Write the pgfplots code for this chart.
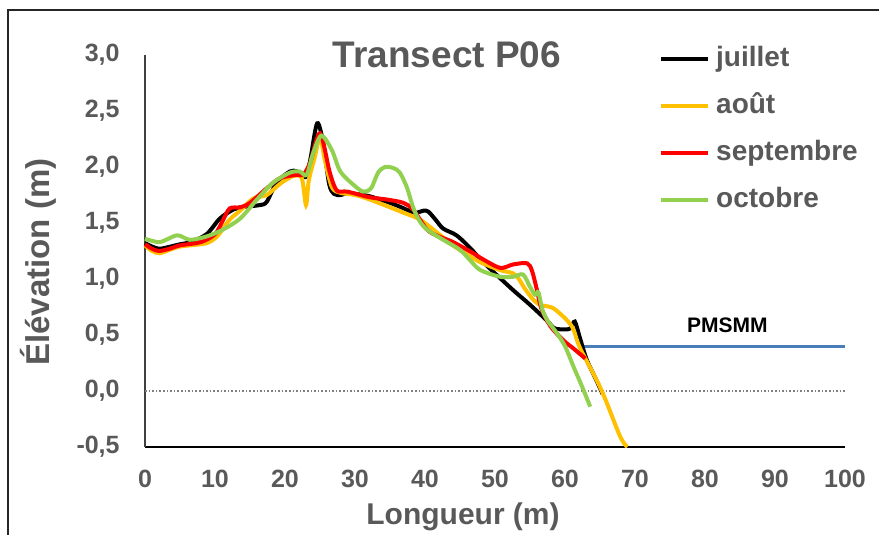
\documentclass[border=0pt]{standalone}
\usepackage{fontspec}
\setmainfont{Liberation Sans}
\usepackage{pgfplots}
\pgfplotsset{compat=1.18}
\definecolor{txt}{HTML}{595959}
\definecolor{cjuil}{HTML}{000000}
\definecolor{caout}{HTML}{FFC000}
\definecolor{csept}{HTML}{FF0000}
\definecolor{coct}{HTML}{92D050}
\definecolor{cpm}{HTML}{4A7EBB}
\begin{document}
\begin{tikzpicture}
\path[use as bounding box] (0pt,0pt) rectangle (439.5pt,267.5pt);
\draw[line width=1pt, black!85] (4pt,0pt) -- (4pt,262.5pt) -- (439.5pt,262.5pt);
\begin{axis}[
  at={(72.5pt,44pt)}, anchor=south west,
  scale only axis, width=350pt, height=196pt,
  xmin=0, xmax=100, ymin=-0.5, ymax=3,
  axis x line*=bottom, axis y line*=left,
  x axis line style={-, line width=0.8pt, black},
  y axis line style={-, line width=0.6pt, black!75},
  xtick={0,10,...,100},
  ytick={-0.5,0,0.5,1,1.5,2,2.5,3},
  major tick length=0pt,
  ticklabel style={font=\fontsize{12.5}{14}\selectfont\bfseries, text=txt, inner sep=0pt},
  xticklabel style={yshift=-11.5pt},
  yticklabel style={xshift=-12.5pt},
  /pgf/number format/assume math mode=true,
  yticklabel={\pgfmathprintnumber[fixed, fixed zerofill, precision=1, use comma]{\tick}},
  xticklabel={\pgfmathprintnumber[fixed, precision=0]{\tick}},
  clip=false,
  legend style={at={(0.734,1.023)}, anchor=north west, draw=none, fill=none,
    inner sep=0pt, row sep=10.5pt, column sep=3pt,
    font=\fontsize{14}{16}\selectfont\bfseries, text=txt,
    nodes={inner sep=0pt, text height=10pt, text depth=3pt}},
  legend cell align=left,
  legend image code/.code={\draw[#1, line width=2pt] (0pt,0pt) -- (23.5pt,0pt);},
]
\addplot[forget plot, densely dotted, line width=0.8pt, black!50] coordinates {(0,0) (100,0)};
\addplot[forget plot, cpm, line width=1.6pt] coordinates {(62.5,0.4) (100,0.4)};
\node[font=\fontsize{10.5}{12}\selectfont\bfseries, text=black] at (axis cs:83.2,0.59) {PMSMM};

\addplot[cjuil, line width=2pt, smooth, tension=0.5] coordinates {
(0,1.32) (1,1.29) (2,1.27) (3,1.28) (5,1.31) (6.5,1.33) (8.8,1.40) (10.7,1.54) (12.6,1.62)
(13.6,1.64) (16.4,1.66) (17.4,1.69) (18.8,1.86) (20.7,1.96) (21.7,1.96) (22.9,1.91)
(23.6,2.06) (24.6,2.39) (25.5,2.2) (26.3,1.85) (27,1.76) (28,1.75) (29,1.77) (30,1.76)
(32,1.74) (35,1.68) (37,1.63) (38.5,1.59) (39.8,1.61) (40.5,1.60) (41.5,1.53) (42.6,1.45)
(44.5,1.39) (46.4,1.28) (48,1.17) (50,1.05) (52.6,0.90) (55,0.77) (57.4,0.63) (58.5,0.56)
(60,0.55) (60.8,0.56) (61.4,0.62) (62.1,0.48) (63.1,0.28) (64.3,0.12) (65.4,-0.03)};
\addlegendentry{juillet}

\addplot[caout, line width=2pt, smooth, tension=0.5] coordinates {
(0,1.30) (1,1.25) (2.1,1.23) (3.5,1.26) (5,1.29) (6.4,1.30) (8.8,1.32) (10.3,1.38)
(12.1,1.53) (13.6,1.61) (15.5,1.72) (17.4,1.75) (19.3,1.85) (21.2,1.92) (22.4,1.90)
(23.0,1.66) (23.4,1.88) (24.3,2.1) (25,2.27) (25.7,2.06) (26.7,1.82) (27.9,1.77)
(30,1.75) (32.1,1.71) (35,1.64) (37,1.59) (39.3,1.53) (42,1.40) (44,1.30) (46,1.22)
(47.9,1.15) (50.7,1.08) (52.6,1.05) (53.4,1.00) (54.2,0.92) (55.4,0.82) (56.4,0.77)
(58.3,0.74) (60.3,0.63) (61.2,0.55) (62.1,0.39) (64.5,0.10) (65.8,-0.08) (67.9,-0.41) (68.9,-0.5)};
\addlegendentry{août}

\addplot[csept, line width=2pt, smooth, tension=0.5] coordinates {
(0,1.31) (1,1.27) (2,1.25) (3.5,1.27) (5,1.30) (8,1.33) (10,1.40) (11.1,1.52) (12.1,1.63)
(13.6,1.64) (15,1.68) (17.4,1.81) (19.3,1.90) (21.7,1.93) (22.6,1.93) (23.6,2.04)
(25,2.30) (26.4,1.95) (27.4,1.79) (28.9,1.78) (32.1,1.73) (34.5,1.71) (36.9,1.68)
(38.3,1.62) (40.3,1.44) (42,1.38) (44,1.33) (46.9,1.23) (47.9,1.19) (50.7,1.10)
(52.6,1.13) (54.6,1.14) (55.3,1.07) (56,0.90) (56.6,0.74) (57.9,0.58) (59.8,0.45)
(61.2,0.38) (62.9,0.29)};
\addlegendentry{septembre}

\addplot[coct, line width=2pt, smooth, tension=0.5] coordinates {
(0,1.36) (2.1,1.33) (4.6,1.39) (6.4,1.35) (8.8,1.38) (11.1,1.44) (13.6,1.54) (16,1.71)
(18.3,1.86) (20.7,1.95) (22.1,1.96) (23.1,1.93) (24,2.12) (25.2,2.28) (26.7,2.15)
(27.9,1.96) (29.8,1.84) (31.2,1.78) (32.3,1.81) (33.3,1.95) (34.3,2.00) (35.5,1.99)
(36.4,1.95) (37.4,1.82) (38.3,1.64) (39.2,1.52) (40.3,1.44) (42.6,1.35) (45,1.26)
(46.4,1.17) (47.9,1.08) (50.7,1.02) (52.6,1.02) (54,1.04) (55,0.93) (55.7,0.86)
(56.2,0.88) (56.8,0.72) (57.6,0.62) (58.8,0.52) (60,0.40) (61.2,0.22) (62.5,0.03) (63.6,-0.14)};
\addlegendentry{octobre}
\end{axis}
\node[rotate=90, font=\fontsize{16.5}{19}\selectfont\bfseries, text=txt] at (19pt,136.5pt) {Élévation (m)};
\node[font=\fontsize{15}{18}\selectfont\bfseries, text=txt] at (231.5pt,9pt) {Longueur (m)};
\node[font=\fontsize{18.5}{22}\selectfont\bfseries, text=txt] at (223.5pt,240pt) {Transect P06};
\end{tikzpicture}
\end{document}
